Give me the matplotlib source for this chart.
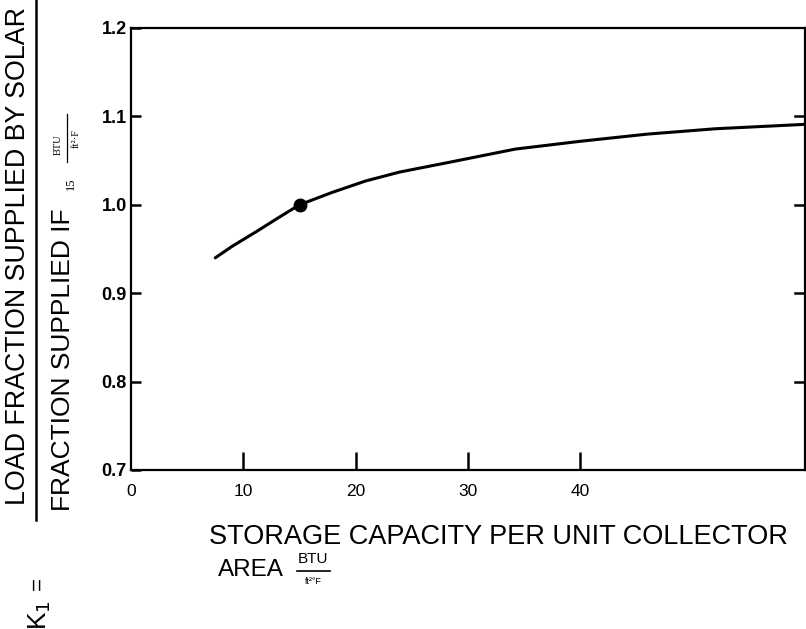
import matplotlib
matplotlib.use("Agg")
import matplotlib.pyplot as plt
from matplotlib.lines import Line2D

# Data
storage = [7.5, 9.0, 11.2, 13.2, 15.0, 17.9, 20.9, 23.9, 28.3, 34.2, 40.1, 46.0, 52.0, 60.0]
k1_ratio = [0.940, 0.953, 0.970, 0.986, 1.000, 1.014, 1.027, 1.037, 1.048,
            1.063, 1.072, 1.080, 1.086, 1.091]
ref_x = [15.0]
ref_y = [1.0]
xticks = [0, 10, 20, 30, 40]
xticklabels = ["0", "10", "20", "30", "40"]
yticks = [0.7, 0.8, 0.9, 1.0, 1.1, 1.2]
yticklabels = ["0.7", "0.8", "0.9", "1.0", "1.1", "1.2"]
right_ticks = [0.8, 0.9, 1.0, 1.1]

fig = plt.figure(figsize=(8.06, 6.29), dpi=100)
ax = fig.add_axes([131/806, 1-470/629, (805-131)/806, (470-28)/629])

ax.plot(storage, k1_ratio, color="black", lw=2.2, solid_capstyle="round")
ax.plot(ref_x, ref_y, "o", color="black", ms=9)

ax.set_xlim(0, 60)
ax.set_ylim(0.7, 1.2)
for s in ax.spines.values():
    s.set_linewidth(1.6)

ax.set_xticks(xticks)
ax.set_xticklabels(xticklabels, fontsize=12.5, family="Liberation Sans")
ax.set_yticks(yticks)
ax.set_yticklabels(yticklabels, fontsize=13, family="Liberation Sans", fontweight="bold")
ax.tick_params(axis="x", direction="in", length=13, width=1.8, pad=10)
ax.tick_params(axis="y", direction="in", length=7, width=1.8, pad=3)
ax.xaxis.get_major_ticks()[0].tick1line.set_visible(False)

# right-side inward ticks without labels
for v in right_ticks:
    ax.plot([0.985, 1.0], [v, v], transform=ax.get_yaxis_transform(),
            color="black", lw=1.8, clip_on=False)

# x axis label
fig.text(498/806, 1-537/629, "STORAGE CAPACITY PER UNIT COLLECTOR",
         ha="center", va="center", fontsize=19.5, family="Liberation Sans")
fig.text(218/806, 1-570/629, "AREA", ha="left", va="center",
         fontsize=17.5, family="Liberation Sans")
fig.text(313/806, 1-559/629, "BTU", ha="center", va="center",
         fontsize=11, family="Liberation Sans")
fig.text(313/806, 1-582/629, "ft\u00b2\u00b0F", ha="center", va="center",
         fontsize=6.5, family="Liberation Sans")
fig.add_artist(Line2D([297/806, 330/806], [1-571/629, 1-571/629],
                      color="black", lw=1.2))

# y axis label (fraction)
fig.text(18/806, 1-256/629, "LOAD FRACTION SUPPLIED BY SOLAR", rotation=90,
         ha="center", va="center", fontsize=19.3, family="Liberation Sans")
fig.add_artist(Line2D([36/806, 36/806], [1.0, 1-520/629],
                      color="black", lw=1.8))
fig.text(63/806, 1-360/629, "FRACTION SUPPLIED IF", rotation=90,
         ha="center", va="center", fontsize=19, family="Liberation Sans")
fig.text(71/806, 1-184/629, "15", rotation=90,
         ha="center", va="center", fontsize=9, family="Liberation Serif")
fig.text(58/806, 1-145/629, "BTU", rotation=90,
         ha="center", va="center", fontsize=7.5, family="Liberation Serif")
fig.text(76/806, 1-138/629, "ft\u00b2\u00b7F", rotation=90,
         ha="center", va="center", fontsize=7.5, family="Liberation Serif")
fig.add_artist(Line2D([67/806, 67/806], [1-114/629, 1-162/629],
                      color="black", lw=0.9))

fig.text(38/806, 1-583/629, "=", rotation=90, ha="center", va="center",
         fontsize=16, family="Liberation Sans")
fig.text(40/806, 1-615/629, "K$_1$", rotation=90, ha="center", va="center",
         fontsize=19, family="Liberation Sans")

fig.savefig("out.png", dpi=100)
